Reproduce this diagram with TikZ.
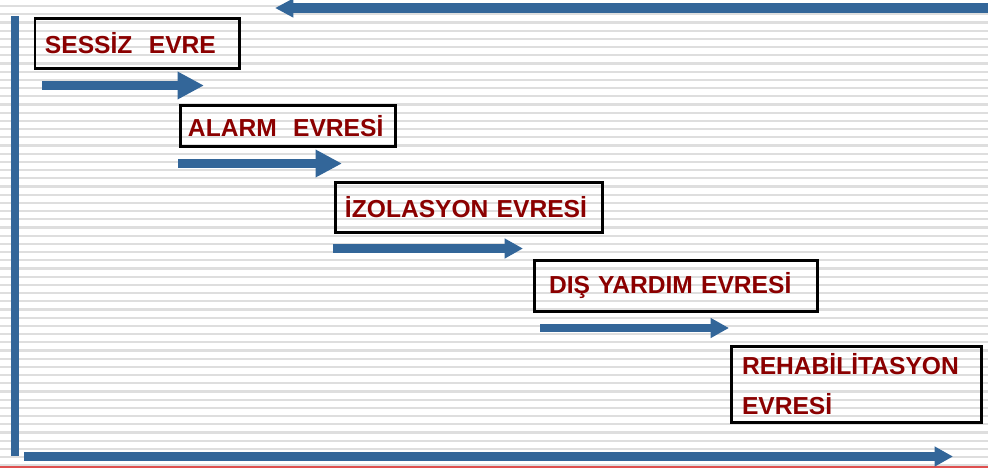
\documentclass[tikz,border=0pt]{standalone}
\usepackage{fontspec}
\setmainfont{Liberation Sans}
\usetikzlibrary{arrows.meta}
\definecolor{evreblue}{RGB}{51,102,153}
\definecolor{evrered}{RGB}{139,0,0}
\definecolor{linegray}{RGB}{222,222,222}
\definecolor{edgered}{RGB}{222,80,80}
\begin{document}
\begin{tikzpicture}[
        x=0.02cm, y=-0.02cm,
        evre/.style={draw=black, line width=0.06cm, anchor=north west,
            inner xsep=0.2cm, inner ysep=0pt, align=left,
            text=evrered, font=\fontsize{14}{22.7}\selectfont\bfseries},
        flecha/.style={evreblue, line width=0.18cm,
            -{Triangle[length=0.53cm,width=0.52cm]}},
        flechita/.style={evreblue, line width=0.17cm,
            -{Triangle[length=0.37cm,width=0.38cm]}}
    ]
    % background with ruled lines
    \useasboundingbox[fill=white] (0,0) rectangle (988,468);
    \foreach \k [evaluate=\k as \yy using 6.1+8.2*\k] in {0,...,56}
        \draw[linegray, line width=0.045cm] (0,\yy) -- (988,\yy);
    \draw[edgered, line width=0.045cm] (0,467) -- (988,467);

    % frame arrows
    \coordinate (topR) at (988,8);
    \coordinate (topL) at (275,8);
    \coordinate (barT) at (15,16);
    \coordinate (barB) at (15,456);
    \coordinate (botL) at (24,456.5);
    \coordinate (botR) at (953,456.5);
    \draw[evreblue, line width=0.2cm,
        -{Triangle[length=0.37cm,width=0.36cm]}] (topR) -- (topL);
    \draw[evreblue, line width=0.16cm] (barT) -- (barB);
    \draw[flechita] (botL) -- (botR);

    % phases
    \node[evre, minimum height=1.02cm, text width=3.7cm] (sessiz) at (33.5,16.5)
        {SESSİZ\ \ EVRE};
    \node[evre, inner xsep=0.16cm, minimum height=0.84cm, text width=4.0cm] (alarm) at (178.5,103.5)
        {ALARM\ \ EVRESİ};
    \node[evre, minimum height=1.02cm, text width=4.96cm] (izolasyon) at (333.5,180.5)
        {İZOLASYON EVRESİ};
    \node[evre, inner xsep=0.3cm, minimum height=1.04cm, text width=5.08cm] (disyardim) at (532.5,258.5)
        {DIŞ YARDIM EVRESİ};
    \node[evre, inner xsep=0.22cm, minimum height=1.54cm, text width=4.58cm] (rehab) at (729.5,344.5)
        {REHABİLİTASYON\\EVRESİ};

    % step arrows
    \coordinate (a1s) at (42,85.5);
    \coordinate (a1e) at (204,85.5);
    \coordinate (a2s) at (178,163.5);
    \coordinate (a2e) at (342,163.5);
    \coordinate (a3s) at (333,248.5);
    \coordinate (a3e) at (523,248.5);
    \coordinate (a4s) at (540,328);
    \coordinate (a4e) at (729,328);
    \draw[flecha] (a1s) -- (a1e);
    \draw[flecha] (a2s) -- (a2e);
    \draw[flechita] (a3s) -- (a3e);
    \draw[flechita] (a4s) -- (a4e);
\end{tikzpicture}
\end{document}
